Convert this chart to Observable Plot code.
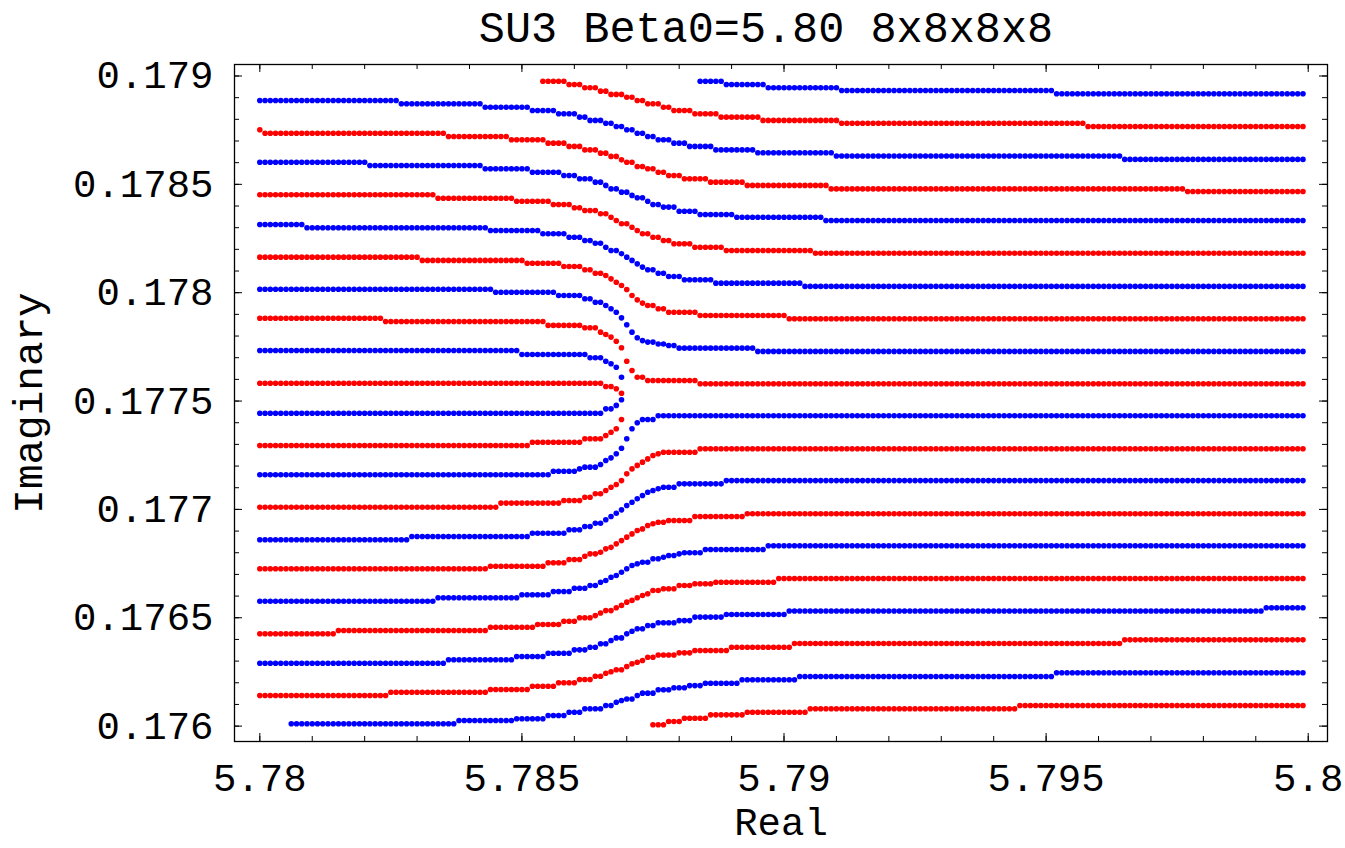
<!DOCTYPE html>
<html>
<head>
<meta charset="utf-8">
<script src="https://cdn.jsdelivr.net/npm/d3@7"></script>
<script src="https://cdn.jsdelivr.net/npm/@observablehq/plot@0.6"></script>
<style>
  html, body { margin: 0; padding: 0; background: #fff; }
  #chart { width: 1345px; height: 848px; }
</style>
</head>
<body>
<div id="chart"></div>
<script>
// ---- Data: each zero trajectory as run-length steps [real part where the level starts, imaginary part]
const z01 = [[5.7800,0.178887],[5.7827,0.178872],[5.7843,0.178856],[5.7852,0.178841],[5.7857,0.178826],[5.7861,0.178810],[5.7863,0.178795],[5.7866,0.178782],[5.7868,0.178767],[5.7870,0.178752],[5.7872,0.178736],[5.7874,0.178721],[5.7876,0.178706],[5.7879,0.178690],[5.7882,0.178675],[5.7887,0.178659],[5.7895,0.178646],[5.7910,0.178631],[5.7965,0.178615]];
const zN1 = [[5.7854,0.178976],[5.7859,0.178961],[5.7862,0.178946],[5.7865,0.178930],[5.7867,0.178915],[5.7870,0.178902],[5.7872,0.178887],[5.7874,0.178872],[5.7877,0.178856],[5.7879,0.178841],[5.7883,0.178826],[5.7888,0.178810],[5.7896,0.178795],[5.7911,0.178782],[5.7958,0.178767]];
const zN2 = [[5.7884,0.178976],[5.7889,0.178961],[5.7897,0.178946],[5.7911,0.178933],[5.7952,0.178918]];
const z02 = [[5.7800,0.178752],[5.7801,0.178736],[5.7836,0.178721],[5.7848,0.178706],[5.7855,0.178690],[5.7859,0.178675],[5.7862,0.178659],[5.7865,0.178644],[5.7867,0.178629],[5.7869,0.178613],[5.7870,0.178602],[5.7872,0.178582],[5.7874,0.178572],[5.7876,0.178556],[5.7878,0.178541],[5.7881,0.178526],[5.7886,0.178510],[5.7893,0.178495],[5.7909,0.178479],[5.7977,0.178467]];
const z03 = [[5.7800,0.178602],[5.7821,0.178587],[5.7843,0.178572],[5.7852,0.178556],[5.7858,0.178541],[5.7861,0.178526],[5.7864,0.178510],[5.7866,0.178495],[5.7867,0.178479],[5.7869,0.178464],[5.7871,0.178449],[5.7872,0.178438],[5.7874,0.178422],[5.7875,0.178407],[5.7877,0.178395],[5.7880,0.178376],[5.7884,0.178361],[5.7891,0.178348],[5.7908,0.178333]];
const z04 = [[5.7800,0.178452],[5.7834,0.178436],[5.7849,0.178422],[5.7856,0.178407],[5.7860,0.178392],[5.7862,0.178379],[5.7865,0.178364],[5.7867,0.178348],[5.7868,0.178333],[5.7869,0.178318],[5.7871,0.178302],[5.7872,0.178287],[5.7873,0.178272],[5.7875,0.178256],[5.7877,0.178241],[5.7879,0.178226],[5.7883,0.178210],[5.7889,0.178195],[5.7906,0.178182]];
const z05 = [[5.7800,0.178315],[5.7809,0.178300],[5.7844,0.178287],[5.7854,0.178272],[5.7859,0.178256],[5.7862,0.178241],[5.7864,0.178228],[5.7866,0.178210],[5.7867,0.178195],[5.7869,0.178180],[5.7870,0.178164],[5.7871,0.178149],[5.7872,0.178133],[5.7873,0.178118],[5.7874,0.178106],[5.7876,0.178090],[5.7878,0.178075],[5.7881,0.178060],[5.7887,0.178044],[5.7904,0.178029]];
const z06 = [[5.7800,0.178164],[5.7831,0.178149],[5.7851,0.178136],[5.7858,0.178121],[5.7862,0.178106],[5.7864,0.178090],[5.7866,0.178079],[5.7867,0.178064],[5.7868,0.178048],[5.7869,0.178033],[5.7870,0.178015],[5.7871,0.177987],[5.7872,0.177967],[5.7873,0.177952],[5.7874,0.177941],[5.7876,0.177926],[5.7878,0.177910],[5.7884,0.177895],[5.7901,0.177880]];
const z07 = [[5.7800,0.178016],[5.7845,0.178002],[5.7857,0.177987],[5.7862,0.177972],[5.7864,0.177956],[5.7866,0.177941],[5.7867,0.177926],[5.7868,0.177910],[5.7869,0.177884],[5.7870,0.177852],[5.7871,0.177818],[5.7872,0.177792],[5.7873,0.177779],[5.7874,0.177772],[5.7876,0.177763],[5.7878,0.177756],[5.7880,0.177744],[5.7895,0.177729]];
const z08 = [[5.7800,0.177882],[5.7824,0.177867],[5.7855,0.177849],[5.7862,0.177838],[5.7865,0.177818],[5.7866,0.177807],[5.7867,0.177795],[5.7868,0.177776],[5.7869,0.177746],[5.7870,0.177684],[5.7871,0.177641],[5.7872,0.177610],[5.7874,0.177595],[5.7884,0.177580]];
const z09 = [[5.7800,0.177733],[5.7850,0.177715],[5.7863,0.177700],[5.7866,0.177684],[5.7867,0.177672],[5.7868,0.177656],[5.7869,0.177610]];
const z10 = [[5.7800,0.177582],[5.7866,0.177567],[5.7868,0.177557],[5.7869,0.177536]];
const z11 = [[5.7800,0.177444],[5.7866,0.177464],[5.7868,0.177480],[5.7869,0.177506]];
const z12 = [[5.7800,0.177295],[5.7852,0.177310],[5.7862,0.177326],[5.7866,0.177341],[5.7867,0.177356],[5.7868,0.177372],[5.7869,0.177415]];
const z13 = [[5.7800,0.177160],[5.7856,0.177176],[5.7861,0.177187],[5.7862,0.177195],[5.7865,0.177207],[5.7866,0.177226],[5.7867,0.177238],[5.7868,0.177257],[5.7869,0.177282],[5.7870,0.177326],[5.7871,0.177372],[5.7872,0.177400],[5.7873,0.177415],[5.7876,0.177432]];
const z14 = [[5.7800,0.177010],[5.7846,0.177029],[5.7858,0.177041],[5.7862,0.177056],[5.7864,0.177072],[5.7866,0.177087],[5.7867,0.177102],[5.7868,0.177115],[5.7869,0.177133],[5.7870,0.177164],[5.7871,0.177187],[5.7872,0.177203],[5.7873,0.177218],[5.7874,0.177233],[5.7875,0.177249],[5.7876,0.177257],[5.7877,0.177264],[5.7884,0.177280]];
const z15 = [[5.7800,0.176860],[5.7829,0.176875],[5.7852,0.176890],[5.7859,0.176906],[5.7862,0.176921],[5.7864,0.176936],[5.7866,0.176952],[5.7867,0.176967],[5.7868,0.176982],[5.7869,0.176998],[5.7870,0.177018],[5.7871,0.177033],[5.7872,0.177049],[5.7873,0.177064],[5.7874,0.177079],[5.7875,0.177087],[5.7876,0.177095],[5.7877,0.177102],[5.7880,0.177118],[5.7889,0.177133]];
const z16 = [[5.7800,0.176726],[5.7844,0.176738],[5.7855,0.176754],[5.7859,0.176769],[5.7862,0.176784],[5.7863,0.176795],[5.7865,0.176802],[5.7866,0.176818],[5.7867,0.176825],[5.7868,0.176841],[5.7869,0.176856],[5.7870,0.176872],[5.7871,0.176887],[5.7872,0.176903],[5.7873,0.176910],[5.7874,0.176926],[5.7875,0.176934],[5.7876,0.176941],[5.7878,0.176949],[5.7883,0.176967],[5.7893,0.176980]];
const z17 = [[5.7800,0.176576],[5.7834,0.176592],[5.7850,0.176606],[5.7856,0.176621],[5.7860,0.176636],[5.7863,0.176649],[5.7865,0.176664],[5.7866,0.176672],[5.7867,0.176687],[5.7868,0.176695],[5.7869,0.176710],[5.7870,0.176726],[5.7871,0.176741],[5.7872,0.176749],[5.7873,0.176756],[5.7875,0.176772],[5.7877,0.176779],[5.7878,0.176787],[5.7880,0.176795],[5.7881,0.176800],[5.7885,0.176815],[5.7897,0.176832]];
const z18 = [[5.7800,0.176426],[5.7815,0.176441],[5.7844,0.176456],[5.7853,0.176469],[5.7858,0.176484],[5.7861,0.176500],[5.7864,0.176510],[5.7865,0.176522],[5.7866,0.176533],[5.7868,0.176546],[5.7869,0.176557],[5.7870,0.176572],[5.7871,0.176580],[5.7872,0.176592],[5.7873,0.176603],[5.7874,0.176611],[5.7875,0.176626],[5.7877,0.176634],[5.7880,0.176649],[5.7883,0.176657],[5.7887,0.176664],[5.7899,0.176681]];
const z19 = [[5.7800,0.176290],[5.7836,0.176306],[5.7849,0.176321],[5.7855,0.176336],[5.7860,0.176352],[5.7863,0.176364],[5.7865,0.176380],[5.7867,0.176395],[5.7868,0.176407],[5.7870,0.176426],[5.7871,0.176438],[5.7872,0.176449],[5.7874,0.176464],[5.7876,0.176477],[5.7880,0.176487],[5.7883,0.176503],[5.7889,0.176515],[5.7901,0.176531],[5.7992,0.176546]];
const z20 = [[5.7800,0.176141],[5.7825,0.176156],[5.7844,0.176169],[5.7852,0.176184],[5.7857,0.176200],[5.7861,0.176215],[5.7864,0.176230],[5.7866,0.176244],[5.7867,0.176251],[5.7868,0.176260],[5.7870,0.176275],[5.7871,0.176288],[5.7872,0.176295],[5.7873,0.176303],[5.7874,0.176318],[5.7876,0.176328],[5.7880,0.176338],[5.7883,0.176349],[5.7890,0.176364],[5.7902,0.176381],[5.7965,0.176398]];
const z21 = [[5.7806,0.176011],[5.7838,0.176026],[5.7849,0.176034],[5.7855,0.176049],[5.7859,0.176064],[5.7862,0.176080],[5.7866,0.176095],[5.7868,0.176110],[5.7869,0.176118],[5.7870,0.176125],[5.7872,0.176141],[5.7873,0.176152],[5.7876,0.176168],[5.7879,0.176177],[5.7882,0.176187],[5.7885,0.176198],[5.7892,0.176214],[5.7903,0.176229],[5.7952,0.176246]];
const zN3 = [[5.7875,0.176006],[5.7878,0.176021],[5.7881,0.176036],[5.7886,0.176052],[5.7893,0.176064],[5.7905,0.176080],[5.7945,0.176095]];

// trajectory list: steps, last real sample, zero-index parity group
const trajectories = [
  [zN2, 5.7999, "odd"], [zN1, 5.7999, "even"],
  [z01, 5.7999, "odd"], [z02, 5.7999, "even"], [z03, 5.7999, "odd"], [z04, 5.7999, "even"],
  [z05, 5.7999, "odd"], [z06, 5.7999, "even"], [z07, 5.7999, "odd"], [z08, 5.7999, "even"],
  [z09, 5.7869, "odd"], [z10, 5.7869, "even"], [z11, 5.7869, "odd"], [z12, 5.7869, "even"],
  [z13, 5.7999, "odd"], [z14, 5.7999, "even"], [z15, 5.7999, "odd"], [z16, 5.7999, "even"],
  [z17, 5.7999, "odd"], [z18, 5.7999, "even"], [z19, 5.7999, "odd"], [z20, 5.7999, "even"],
  [z21, 5.7999, "odd"], [zN3, 5.7999, "even"]
];
const realStep = 0.0001; // sampling of the real part of beta

const title = "SU3 Beta0=5.80 8x8x8x8";
const xLabel = "Real";
const yLabel = "Imaginary";
const xMajor = [5.78, 5.785, 5.79, 5.795, 5.8];
const xMajorLabels = ["5.78", "5.785", "5.79", "5.795", "5.8"];
const yMajor = [0.176, 0.1765, 0.177, 0.1775, 0.178, 0.1785, 0.179];
const yMajorLabels = ["0.176", "0.1765", "0.177", "0.1775", "0.178", "0.1785", "0.179"];
const xMinor = d3.range(5780, 5801, 1).map(k => k / 1000);
const yMinor = d3.range(1760, 1791, 1).map(k => k / 10000);

// ---- decode run-length steps into sample points
const points = [];
trajectories.forEach(([steps, end, group], t) => {
  const k0 = Math.round(steps[0][0] / realStep), k1 = Math.round(end / realStep);
  let s = 0;
  for (let k = k0; k <= k1; k++) {
    while (s + 1 < steps.length && Math.round(steps[s + 1][0] / realStep) <= k) s++;
    points.push({re: k * realStep, im: steps[s][1], group, t});
  }
});

// ---- layout
const W = 1345, H = 848;
const mL = 234, mR = 18, mT = 64, mB = 107;
const fw = W - mL - mR, fh = H - mT - mB;
const major = 8, minor = 5;
const font = "Liberation Mono, Courier New, monospace";

const chart = Plot.plot({
  width: W, height: H,
  marginLeft: mL, marginRight: mR, marginTop: mT, marginBottom: mB,
  x: {domain: [5.779517, 5.800368], axis: null},
  y: {domain: [0.175929, 0.179053], axis: null},
  color: {domain: ["odd", "even"], range: ["#0000ff", "#ff0000"]},
  style: {background: "#fff", fontFamily: font},
  marks: [
    Plot.dot(points, {x: "re", y: "im", fill: "group", r: 2.8, stroke: null}),
    Plot.frame({stroke: "#000", strokeWidth: 1.3}),
    // inward ticks on all four sides
    Plot.ruleX(xMinor, {x: d => d, insetTop: fh - minor, stroke: "#000"}),
    Plot.ruleX(xMinor, {x: d => d, insetBottom: fh - minor, stroke: "#000"}),
    Plot.ruleX(xMajor, {x: d => d, insetTop: fh - major, stroke: "#000"}),
    Plot.ruleX(xMajor, {x: d => d, insetBottom: fh - major, stroke: "#000"}),
    Plot.ruleY(yMinor, {y: d => d, insetRight: fw - minor, stroke: "#000"}),
    Plot.ruleY(yMinor, {y: d => d, insetLeft: fw - minor, stroke: "#000"}),
    Plot.ruleY(yMajor, {y: d => d, insetRight: fw - major, stroke: "#000"}),
    Plot.ruleY(yMajor, {y: d => d, insetLeft: fw - major, stroke: "#000"}),
    // tick labels
    Plot.text(xMajor, {x: d => d, frameAnchor: "bottom", dy: 37, lineAnchor: "middle", text: (d, i) => xMajorLabels[i],
      fontSize: 39, fontFamily: font, fill: "#000"}),
    Plot.text(yMajor, {y: d => d, frameAnchor: "left", dx: -21, textAnchor: "end", lineAnchor: "middle", text: (d, i) => yMajorLabels[i],
      fontSize: 39, fontFamily: font, fill: "#000"}),
    // titles
    Plot.text([title], {frameAnchor: "top", dy: -36, dx: -15, lineAnchor: "middle", text: d => d, fontSize: 43.5, fontFamily: font, fill: "#000"}),
    Plot.text([xLabel], {frameAnchor: "bottom", dy: 81, lineAnchor: "middle", text: d => d, fontSize: 39, fontFamily: font, fill: "#000"}),
    Plot.text([yLabel], {frameAnchor: "left", dx: -206, rotate: -90, textAnchor: "middle", lineAnchor: "middle", text: d => d, fontSize: 41, fontFamily: font, fill: "#000"})
  ]
});
document.getElementById("chart").appendChild(chart);
</script>
</body>
</html>
